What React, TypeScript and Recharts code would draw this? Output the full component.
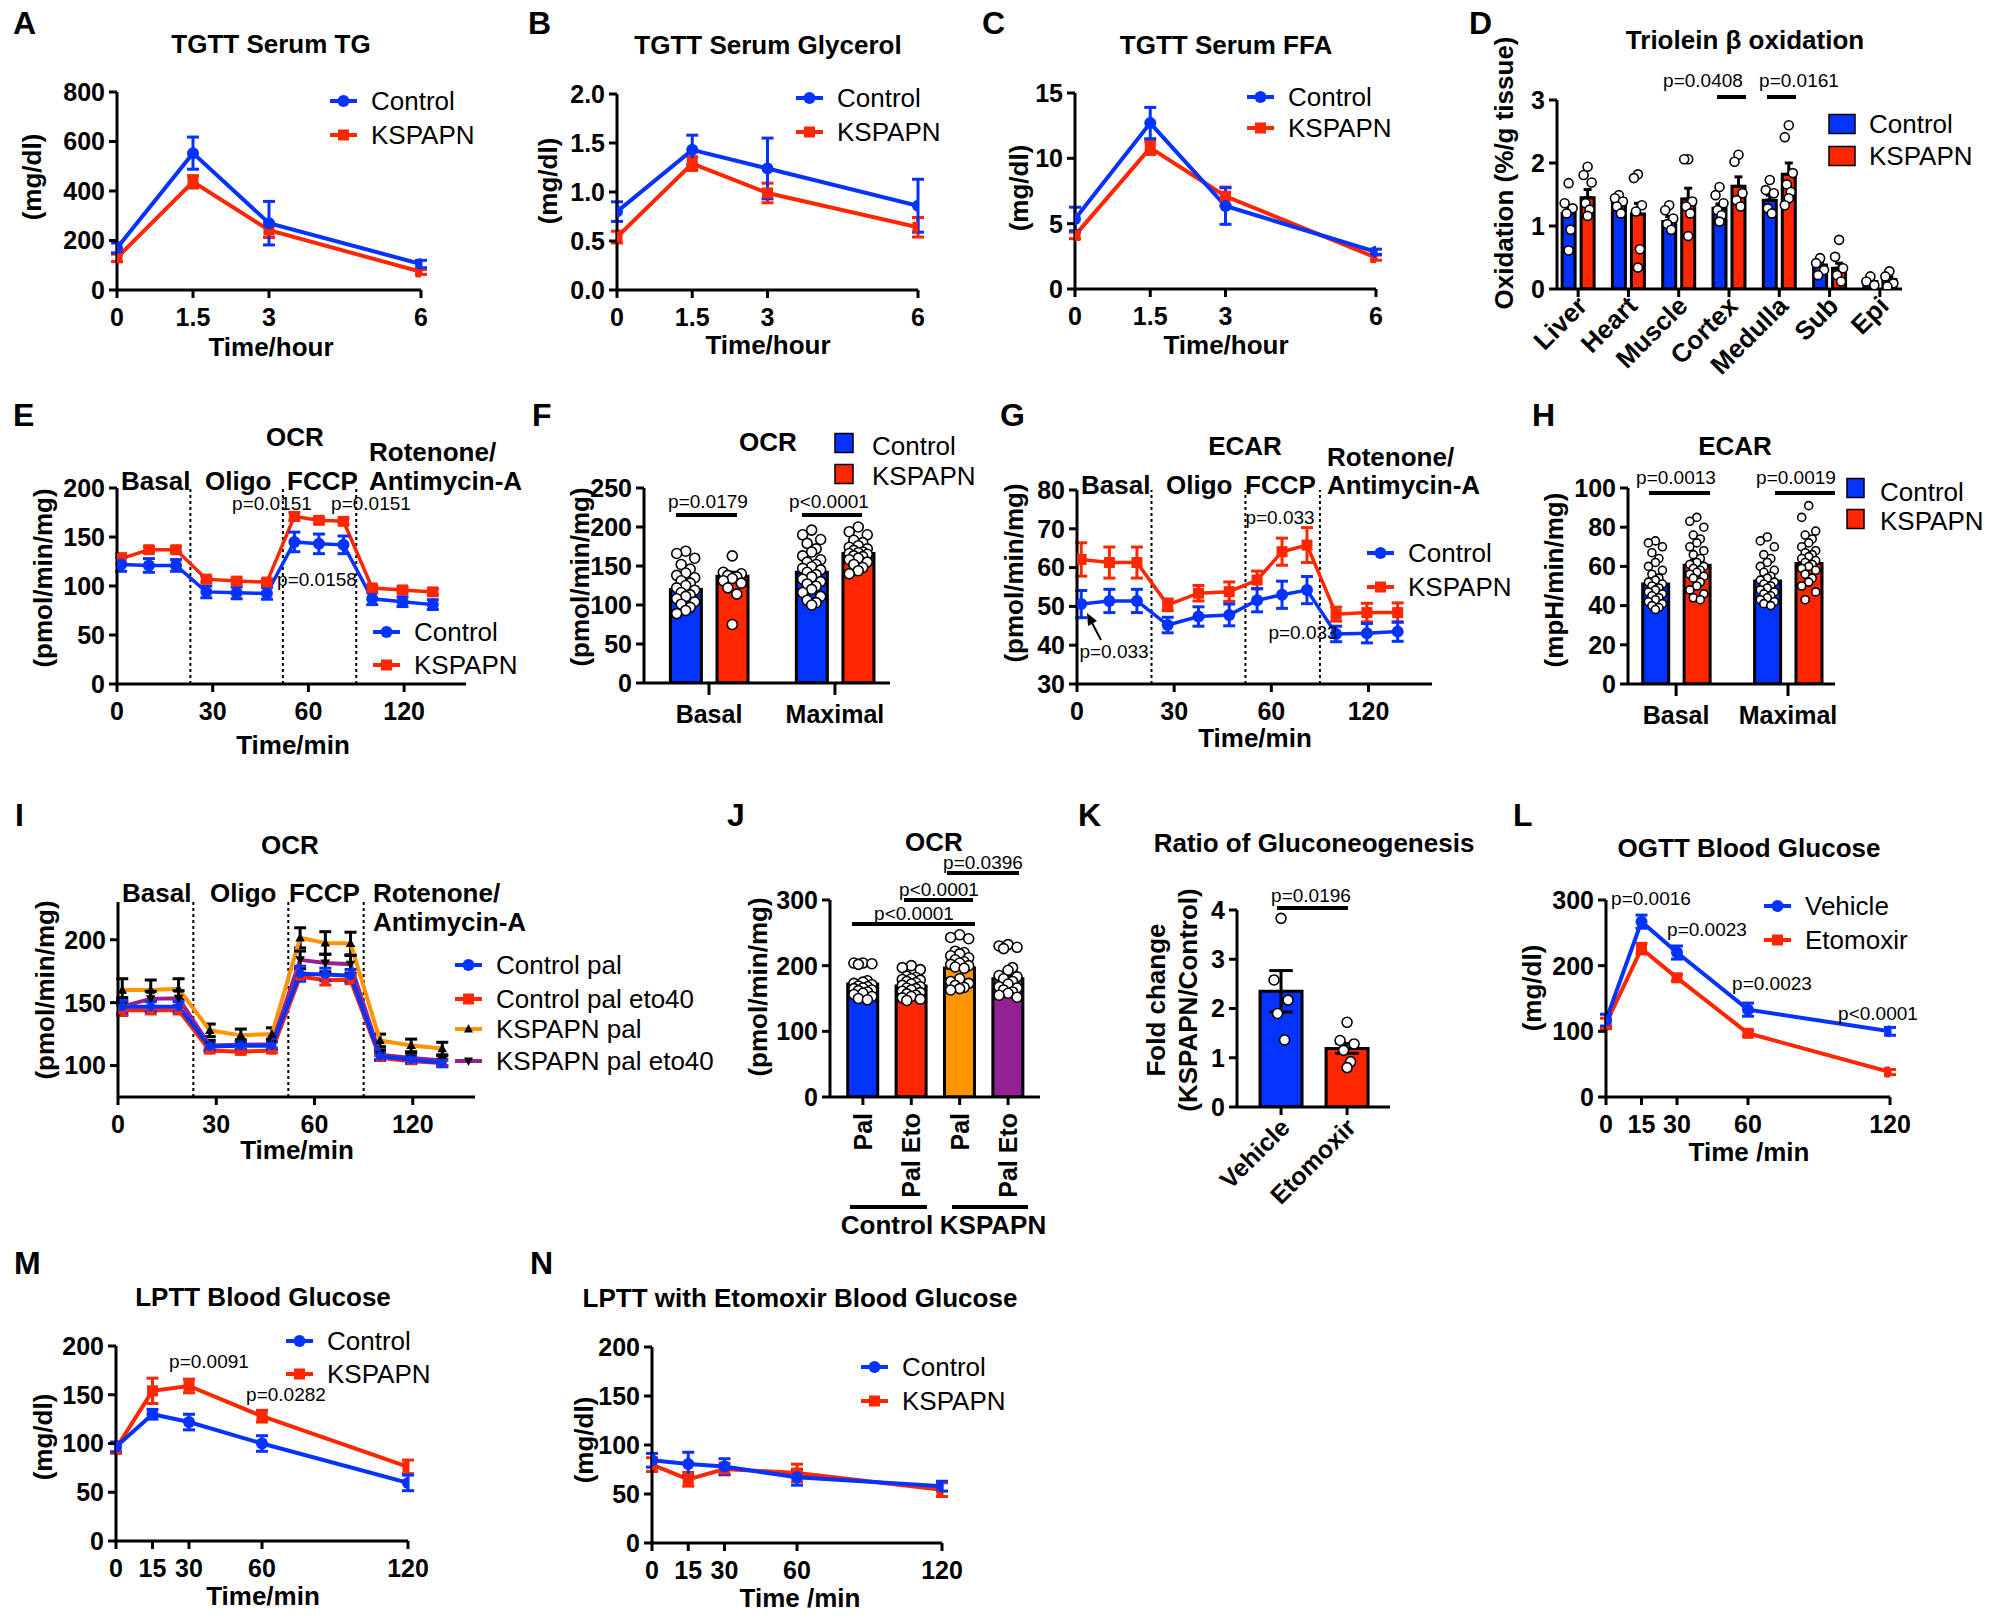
import React from "react";
import {
  LineChart,
  Line,
  ComposedChart,
  Bar,
  Cell,
  Scatter,
  XAxis,
  YAxis,
  ErrorBar,
  ReferenceLine,
} from "recharts";

const FONT = "'Liberation Sans', Arial, Helvetica, sans-serif";
const BLUE = "#0433FF";
const RED = "#FF2600";
const ORANGE = "#FF9300";
const PURPLE = "#942192";

// ---------- A-C: TGTT serum ----------
const timeHours = [0, 1.5, 3, 6];
const tgControl = [170, 553, 270, 105];
const tgControlErr = [20, 65, 88, 15];
const tgKspapn = [130, 437, 242, 73];
const tgKspapnErr = [15, 25, 30, 10];

const glyControl = [0.8, 1.43, 1.24, 0.86];
const glyControlErr = [0.1, 0.15, 0.31, 0.27];
const glyKspapn = [0.54, 1.29, 0.99, 0.64];
const glyKspapnErr = [0.06, 0.07, 0.1, 0.1];

const ffaControl = [5.36, 12.7, 6.35, 2.85];
const ffaControlErr = [0.9, 1.2, 1.4, 0.2];
const ffaKspapn = [4.1, 10.8, 7.1, 2.4];
const ffaKspapnErr = [0.25, 0.5, 0.7, 0.2];

// ---------- D: triolein oxidation ----------
const tissues = ["Liver", "Heart", "Muscle", "Cortex", "Medulla", "Sub", "Epi"];
const oxControl = [1.2, 1.43, 1.07, 1.28, 1.41, 0.38, 0.12];
const oxControlErr = [0.12, 0.05, 0.08, 0.07, 0.08, 0.05, 0.03];
const oxKspapn = [1.45, 1.19, 1.43, 1.63, 1.82, 0.33, 0.15];
const oxKspapnErr = [0.13, 0.17, 0.17, 0.15, 0.18, 0.08, 0.04];
const oxControlDots = [
  [1.68, 1.36, 1.28, 1.2, 0.94, 0.61],
  [1.49, 1.44, 1.39, 1.31, 1.2],
  [1.33, 1.25, 1.12, 1.03, 0.94],
  [1.62, 1.49, 1.36, 1.25, 1.17, 1.07],
  [1.73, 1.57, 1.52, 1.28, 1.2],
  [0.49, 0.41, 0.3, 0.22],
  [0.2, 0.12, 0.06],
];
const oxKspapnDots = [
  [1.94, 1.81, 1.69, 1.36, 1.26, 1.16],
  [1.82, 1.76, 1.33, 1.23, 0.63, 0.34],
  [2.06, 2.06, 1.39, 1.31, 1.2, 0.84],
  [2.13, 2.02, 1.52, 1.41, 1.31],
  [2.6, 2.41, 1.84, 1.66, 1.54, 1.44, 1.33],
  [0.78, 0.51, 0.33, 0.22, 0.12],
  [0.28, 0.2, 0.09, 0.04],
];

// ---------- E, G, I: seahorse traces ----------
const seahorseTimes = [1.3, 10, 18.5, 28, 37.5, 47, 55.6, 63.3, 71, 80, 89.5, 99];
const seahorseTicks = [0, 30, 60, 90];
const seahorseTickLabels = ["0", "30", "60", "120"];
const injections = [23, 52, 75];

const ocrControl = [122, 121, 121, 94, 93, 92.5, 145, 143, 142, 87, 84, 81];
const ocrControlErr = [7, 7, 6, 6, 6, 6, 10, 10, 9, 6, 5, 5];
const ocrKspapn = [128, 137, 137, 107, 105, 104, 171, 167, 166, 98, 96, 94];
const ocrKspapnErr = [5, 3, 3, 3, 3, 3, 4, 3, 3, 2, 3, 3];

const ecarControl = [50.6, 51.4, 51.4, 45.2, 47.4, 47.8, 51.6, 53, 54.2, 42.9, 43.1, 43.5];
const ecarControlErr = [3.5, 3, 3, 2, 2.5, 2.8, 3, 3.5, 3.5, 2, 2.5, 2.5];
const ecarKspapn = [62.1, 61.3, 61.3, 50.4, 53.4, 53.8, 56.8, 64.1, 65.8, 48, 48.4, 48.4];
const ecarKspapnErr = [4.3, 4, 4, 1.5, 2, 2.5, 2.3, 3.5, 4.5, 1.8, 2.4, 2.5];

const palControl = [146.7, 146.7, 146.7, 115.2, 115.8, 115.8, 173, 172.4, 171.4, 107.3, 104.7, 102];
const palControlErr = [5, 4, 4, 3, 3, 3, 6, 5, 5, 3, 3, 3];
const palControlEto = [144, 144, 144, 112, 111, 112, 170.6, 168, 168, 106, 103.5, 102];
const palControlEtoErr = [4, 3, 3, 2, 2, 2, 3, 4, 3, 2, 2, 2];
const palKspapn = [160, 160, 161, 128, 124, 125, 201.5, 197.4, 197, 120, 116, 113.5];
const palKspapnErr = [9, 8, 8, 5, 5, 5, 8, 9, 9, 5, 5, 5];
const palKspapnEto = [147, 153, 153.5, 116, 116.5, 117, 184, 181.5, 180.5, 108.5, 106, 104];
const palKspapnEtoErr = [7, 6, 6, 4, 4, 4, 7, 7, 7, 4, 4, 4];

// ---------- F, H: basal / maximal bars ----------
const stateGroups = ["Basal", "Maximal"];
const ocrBarControl = [120, 142];
const ocrBarControlErr = [5, 6];
const ocrBarKspapn = [137, 166];
const ocrBarKspapnErr = [5, 4];
const ocrDotsControl = [
  [169, 166, 160, 152, 146, 141, 138, 135, 131, 128, 125, 122, 119, 116, 113, 111, 108, 104, 101, 97, 93, 89],
  [196, 190, 184, 179, 172, 168, 163, 158, 155, 152, 149, 147, 145, 142, 139, 136, 133, 130, 127, 124, 120, 116, 111, 106, 103, 100],
];
const ocrDotsKspapn = [
  [163, 142, 140, 138, 136, 134, 131, 128, 122, 114, 75],
  [200, 194, 190, 183, 180, 176, 174, 172, 170, 168, 167, 166, 165, 163, 162, 160, 158, 155, 152, 148, 144, 140],
];

const ecarBarControl = [51, 52.5];
const ecarBarControlErr = [2, 2];
const ecarBarKspapn = [60.6, 61.5];
const ecarBarKspapnErr = [2.5, 2.5];
const ecarDotsControl = [
  [73, 72, 70, 67, 64, 62, 60, 58, 56, 54, 53, 52, 51, 50, 49, 48, 47, 46, 45, 44, 43, 42, 41, 40, 39, 38],
  [75, 73, 70, 66, 64, 62, 60, 58, 57, 55, 54, 53, 52, 51, 50, 49, 48, 47, 46, 45, 44, 43, 42, 41, 40],
];
const ecarDotsKspapn = [
  [85, 83, 80, 76, 74, 72, 70, 68, 66, 64, 62, 61, 60, 59, 58, 57, 56, 55, 54, 52, 50, 48, 46, 44, 43],
  [91, 85, 78, 76, 74, 72, 70, 68, 67, 66, 65, 64, 63, 62, 61, 60, 59, 58, 56, 54, 52, 50, 47, 43],
];

// ---------- J: palmitate OCR ----------
const palLabels = ["Pal", "Pal Eto", "Pal", "Pal Eto"];
const palColors = [BLUE, RED, ORANGE, PURPLE];
const palBarValues = [172, 169, 196.5, 180];
const palBarErr = [3, 3, 5, 5];
const palDots = [
  [204, 204, 203, 202, 177, 175, 173, 171, 169, 168, 166, 165, 163, 162, 160, 158, 156, 153, 150, 148],
  [200, 197, 194, 184, 182, 180, 179, 178, 176, 174, 172, 170, 168, 166, 165, 163, 161, 159, 157, 155, 153, 151, 149, 147],
  [247, 243, 241, 222, 220, 218, 215, 212, 209, 206, 204, 202, 200, 198, 196, 180, 176, 173, 170, 167, 165, 163],
  [232, 230, 228, 226, 197, 193, 185, 183, 180, 176, 172, 168, 166, 163, 160, 158, 155, 152],
];

// ---------- K: gluconeogenesis ratio ----------
const gngGroups = ["Vehicle", "Etomoxir"];
const gngValues = [2.35, 1.19];
const gngErr = [0.42, 0.1];
const gngDots = [
  [3.83, 2.58, 2.17, 1.9, 1.36],
  [1.72, 1.35, 1.28, 1.15, 0.92, 0.8],
];

// ---------- L-N: glucose curves ----------
const glucoseTimes = [0, 15, 30, 60, 120];
const ogttVehicle = [117, 267, 220, 133, 100];
const ogttVehicleErr = [9, 10, 10, 10, 6];
const ogttEtomoxir = [112, 226, 181.5, 97, 38];
const ogttEtomoxirErr = [8, 8, 5, 4, 4];

const lpttControl = [96.6, 130, 122, 100, 59.6];
const lpttControlErr = [5, 5, 8, 8, 8];
const lpttKspapn = [95, 154, 159, 128, 76];
const lpttKspapnErr = [5, 13, 7, 6, 7];

const lpttEtoControl = [84.4, 80.6, 78, 67, 58];
const lpttEtoControlErr = [7, 12, 8, 8, 5];
const lpttEtoKspapn = [80, 65, 75.5, 71.4, 54.4];
const lpttEtoKspapnErr = [7, 7, 6, 9, 7];

// ---------- helpers ----------
type Box = [number, number, number, number]; // left, top, right, bottom of the plot area

const axisStroke = { stroke: "#000", strokeWidth: 3 };
const tickFont = { fill: "#000", fontSize: 25, fontWeight: 700, fontFamily: FONT };

function frame(b: Box, yw: number, xh: number) {
  const mt = 14;
  const mr = 34;
  return {
    style: { position: "absolute" as const, left: b[0] - yw, top: b[1] - mt },
    width: b[2] - b[0] + yw + mr,
    height: b[3] - b[1] + mt + xh,
    margin: { top: mt, right: mr, left: 0, bottom: 0 },
  };
}

const circleDot = (fill: string, r: number) => (p: any) =>
  <circle key={`d${p.index}`} cx={p.cx} cy={p.cy} r={r} fill={fill} />;
const squareDot = (fill: string, s: number) => (p: any) =>
  <rect key={`d${p.index}`} x={p.cx - s / 2} y={p.cy - s / 2} width={s} height={s} fill={fill} />;
const triDot = (fill: string, s: number, down: boolean) => (p: any) => {
  const h = down ? -s : s;
  return (
    <polygon
      key={`d${p.index}`}
      points={`${p.cx},${p.cy - h * 0.6} ${p.cx - s * 0.6},${p.cy + h * 0.45} ${p.cx + s * 0.6},${p.cy + h * 0.45}`}
      fill={fill}
    />
  );
};

type Series = { key: string; err: string; color: string; errColor: string; dot: any; width: number };

const pairSeries = (w: number): Series[] => [
  { key: "k", err: "ke", color: RED, errColor: RED, dot: squareDot(RED, 11), width: w },
  { key: "c", err: "ce", color: BLUE, errColor: BLUE, dot: circleDot(BLUE, 6), width: w },
];

const pairRows = (t: number[], c: number[], ce: number[], k: number[], ke: number[]) =>
  t.map((x, i) => ({ t: x, c: c[i], ce: ce[i], k: k[i], ke: ke[i] }));

function LinePanel(props: {
  box: Box;
  rows: any[];
  xDomain: number[];
  xTicks: number[];
  xLabels?: string[];
  yDomain: number[];
  yTicks: number[];
  yFmt?: (v: number) => string;
  series: Series[];
  phases?: number[];
}) {
  const { box, rows, xDomain, xTicks, xLabels, yDomain, yTicks, yFmt, series, phases } = props;
  const f = frame(box, 72, 60);
  return (
    <div style={f.style}>
      <LineChart width={f.width} height={f.height} data={rows} margin={f.margin}>
        <XAxis
          type="number"
          dataKey="t"
          domain={xDomain}
          ticks={xTicks}
          interval={0}
          allowDataOverflow
          tickFormatter={(v: number) => (xLabels ? xLabels[xTicks.indexOf(v)] : String(v))}
          axisLine={axisStroke}
          tickLine={axisStroke}
          tickSize={8}
          tickMargin={10}
          tick={tickFont}
          height={60}
        />
        <YAxis
          type="number"
          domain={yDomain}
          ticks={yTicks}
          interval={0}
          allowDataOverflow
          tickFormatter={yFmt}
          axisLine={axisStroke}
          tickLine={axisStroke}
          tickSize={8}
          tickMargin={4}
          tick={tickFont}
          width={72}
        />
        {phases?.map((p) => (
          <ReferenceLine key={p} x={p} stroke="#000" strokeWidth={2} strokeDasharray="3 3" />
        ))}
        {series.map((s) => (
          <Line
            key={s.key}
            type="linear"
            dataKey={s.key}
            stroke={s.color}
            strokeWidth={s.width}
            dot={s.dot}
            activeDot={false}
            isAnimationActive={false}
          >
            <ErrorBar dataKey={s.err} width={6} strokeWidth={3} stroke={s.errColor} direction="y" isAnimationActive={false} />
          </Line>
        ))}
      </LineChart>
    </div>
  );
}

type BarRow = { x: number; y: number; e: number[]; fill: string };

// dots of one column are pushed left / right of the bar centre in turn
const JITTER = [0, -1, 1, -0.5, 0.5];
const spread = (vals: number[], cx: number, step: number) =>
  vals.map((v, k) => ({ x: cx + JITTER[k % JITTER.length] * step, y: v }));

function BarPanel(props: {
  box: Box;
  xh: number;
  bars: BarRow[];
  dots: { x: number; y: number }[];
  xDomain: number[];
  xTicks: number[];
  tick: any;
  fmt?: (v: number) => string;
  tickSize: number;
  tickMargin: number;
  yDomain: number[];
  yTicks: number[];
  barSize: number;
  r: number;
}) {
  const { box, xh, bars, dots, xDomain, xTicks, tick, fmt, tickSize, tickMargin, yDomain, yTicks, barSize, r } = props;
  const f = frame(box, 80, xh);
  return (
    <div style={f.style}>
      <ComposedChart width={f.width} height={f.height} data={bars} margin={f.margin}>
        <XAxis
          type="number"
          dataKey="x"
          domain={xDomain}
          ticks={xTicks}
          interval={0}
          allowDataOverflow
          tick={tick}
          tickFormatter={fmt}
          axisLine={axisStroke}
          tickLine={axisStroke}
          tickSize={tickSize}
          tickMargin={tickMargin}
          height={xh}
        />
        {/* same scale, kept apart so the scattered dots don't shrink the bar band */}
        <XAxis xAxisId="dots" type="number" dataKey="x" domain={xDomain} allowDataOverflow hide />
        <YAxis
          type="number"
          dataKey="y"
          domain={yDomain}
          ticks={yTicks}
          interval={0}
          allowDataOverflow
          axisLine={axisStroke}
          tickLine={axisStroke}
          tickSize={8}
          tickMargin={4}
          tick={tickFont}
          width={80}
        />
        <Bar dataKey="y" barSize={barSize} isAnimationActive={false}>
          {bars.map((b, i) => (
            <Cell key={i} fill={b.fill} stroke="#000" strokeWidth={3} />
          ))}
          <ErrorBar dataKey="e" width={Math.max(4, barSize * 0.28)} strokeWidth={3} stroke="#000" direction="y" isAnimationActive={false} />
        </Bar>
        <Scatter
          xAxisId="dots"
          data={dots}
          isAnimationActive={false}
          shape={(p: any) => <circle cx={p.cx} cy={p.cy} r={r} fill="#fff" stroke="#000" strokeWidth={1.6} />}
        />
      </ComposedChart>
    </div>
  );
}

const slantTick = (labels: string[], size: number) => (p: any) => (
  <text
    x={p.x + 4}
    y={p.y + 2}
    dy="0.35em"
    textAnchor="end"
    fontSize={size}
    fontWeight={700}
    fontFamily={FONT}
    fill="#000"
    transform={`rotate(-45 ${p.x + 4} ${p.y + 2})`}
  >
    {labels[p.payload.value]}
  </text>
);

const uprightTick = (labels: string[]) => (p: any) => (
  <text
    x={p.x}
    y={p.y}
    dy="0.36em"
    textAnchor="end"
    fontSize={25}
    fontWeight={700}
    fontFamily={FONT}
    fill="#000"
    transform={`rotate(-90 ${p.x} ${p.y})`}
  >
    {labels[p.payload.value]}
  </text>
);

// ---------- bar layouts ----------
const boxD: Box = [1557, 100, 1902, 289];
const domD = [-0.42, 6.44];
const uD = (domD[1] - domD[0]) / (boxD[2] - boxD[0]);
const barsD: BarRow[] = tissues.flatMap((_, i) => [
  { x: i - 9.5 * uD, y: oxControl[i], e: [0, oxControlErr[i]], fill: BLUE },
  { x: i + 9.5 * uD, y: oxKspapn[i], e: [0, oxKspapnErr[i]], fill: RED },
]);
const dotsD = tissues.flatMap((_, i) => [
  ...spread(oxControlDots[i], i - 9.5 * uD, 4 * uD),
  ...spread(oxKspapnDots[i], i + 9.5 * uD, 4 * uD),
]);

const boxF: Box = [644, 488, 890, 683];
const domF = [-0.516, 1.437];
const uF = (domF[1] - domF[0]) / (boxF[2] - boxF[0]);
const barsF: BarRow[] = stateGroups.flatMap((_, i) => [
  { x: i - 23.3 * uF, y: ocrBarControl[i], e: [0, ocrBarControlErr[i]], fill: BLUE },
  { x: i + 23.3 * uF, y: ocrBarKspapn[i], e: [0, ocrBarKspapnErr[i]], fill: RED },
]);
const dotsF = stateGroups.flatMap((_, i) => [
  ...spread(ocrDotsControl[i], i - 23.3 * uF, 9 * uF),
  ...spread(ocrDotsKspapn[i], i + 23.3 * uF, 9 * uF),
]);

const boxH: Box = [1628, 488, 1835, 684];
const domH = [-0.43, 1.42];
const uH = (domH[1] - domH[0]) / (boxH[2] - boxH[0]);
const barsH: BarRow[] = stateGroups.flatMap((_, i) => [
  { x: i - 20.7 * uH, y: ecarBarControl[i], e: [0, ecarBarControlErr[i]], fill: BLUE },
  { x: i + 20.7 * uH, y: ecarBarKspapn[i], e: [0, ecarBarKspapnErr[i]], fill: RED },
]);
const dotsH = stateGroups.flatMap((_, i) => [
  ...spread(ecarDotsControl[i], i - 20.7 * uH, 7 * uH),
  ...spread(ecarDotsKspapn[i], i + 20.7 * uH, 7 * uH),
]);

const boxJ: Box = [830, 900, 1040, 1097];
const domJ = [-0.68, 3.66];
const uJ = (domJ[1] - domJ[0]) / (boxJ[2] - boxJ[0]);
const barsJ: BarRow[] = palBarValues.map((v, i) => ({ x: i, y: v, e: [0, palBarErr[i]], fill: palColors[i] }));
const dotsJ = palDots.flatMap((vals, i) => spread(vals, i, 9 * uJ));

const boxK: Box = [1237, 910, 1390, 1107];
const domK = [-0.667, 1.65];
const uK = (domK[1] - domK[0]) / (boxK[2] - boxK[0]);
const barsK: BarRow[] = gngValues.map((v, i) => ({ x: i, y: v, e: [gngErr[i], gngErr[i]], fill: i === 0 ? BLUE : RED }));
const dotsK = gngDots.flatMap((vals, i) => spread(vals, i, 7 * uK));

// ---------- line rows ----------
const rowsA = pairRows(timeHours, tgControl, tgControlErr, tgKspapn, tgKspapnErr);
const rowsB = pairRows(timeHours, glyControl, glyControlErr, glyKspapn, glyKspapnErr);
const rowsC = pairRows(timeHours, ffaControl, ffaControlErr, ffaKspapn, ffaKspapnErr);
const rowsE = pairRows(seahorseTimes, ocrControl, ocrControlErr, ocrKspapn, ocrKspapnErr);
const rowsG = pairRows(seahorseTimes, ecarControl, ecarControlErr, ecarKspapn, ecarKspapnErr);
const rowsL = pairRows(glucoseTimes, ogttVehicle, ogttVehicleErr, ogttEtomoxir, ogttEtomoxirErr);
const rowsM = pairRows(glucoseTimes, lpttControl, lpttControlErr, lpttKspapn, lpttKspapnErr);
const rowsN = pairRows(glucoseTimes, lpttEtoControl, lpttEtoControlErr, lpttEtoKspapn, lpttEtoKspapnErr);
const rowsI = seahorseTimes.map((t, i) => ({
  t,
  a: palControl[i],
  ae: palControlErr[i],
  b: palControlEto[i],
  be: palControlEtoErr[i],
  o: palKspapn[i],
  oe: palKspapnErr[i],
  p: palKspapnEto[i],
  pe: palKspapnEtoErr[i],
}));
const seriesI: Series[] = [
  { key: "o", err: "oe", color: ORANGE, errColor: "#000", dot: triDot("#000", 8, false), width: 4 },
  { key: "p", err: "pe", color: PURPLE, errColor: "#000", dot: triDot("#000", 8, true), width: 4 },
  { key: "b", err: "be", color: RED, errColor: RED, dot: squareDot(RED, 8), width: 4 },
  { key: "a", err: "ae", color: BLUE, errColor: BLUE, dot: circleDot(BLUE, 4.5), width: 4 },
];

// ---------- text overlay ----------
function T(props: { x: number; y: number; s: string; size?: number; bold?: boolean; anchor?: "start" | "middle" | "end"; rot?: number }) {
  const { x, y, s, size = 26, bold = true, anchor = "middle", rot = 0 } = props;
  return (
    <text
      x={x}
      y={y}
      dy="0.36em"
      fontSize={size}
      fontWeight={bold ? 700 : 400}
      fontFamily={FONT}
      textAnchor={anchor}
      fill="#000"
      transform={rot ? `rotate(${rot} ${x} ${y})` : undefined}
    >
      {s}
    </text>
  );
}

function LegendLine(props: { x: number; y: number; color: string; mark: string; label: string }) {
  const { x, y, color, mark, label } = props;
  const cx = x + 13.5;
  return (
    <g>
      <line x1={x} x2={x + 27} y1={y} y2={y} stroke={color} strokeWidth={4} />
      {mark === "circle" && <circle cx={cx} cy={y} r={6} fill={color} />}
      {mark === "square" && <rect x={cx - 5.5} y={y - 5.5} width={11} height={11} fill={color} />}
      {mark === "tri" && <polygon points={`${cx},${y - 5} ${cx - 4.5},${y + 3.5} ${cx + 4.5},${y + 3.5}`} fill="#000" />}
      {mark === "tridown" && <polygon points={`${cx},${y + 5} ${cx - 4.5},${y - 3.5} ${cx + 4.5},${y - 3.5}`} fill="#000" />}
      <T x={x + 41} y={y} s={label} bold={false} anchor="start" />
    </g>
  );
}

function LegendBox(props: { x: number; y: number; w: number; ty: number; color: string; label: string; tx: number }) {
  const { x, y, w, ty, color, label, tx } = props;
  return (
    <g>
      <rect x={x} y={y - 9.5} width={w} height={19} fill={color} stroke="#000" strokeWidth={1.5} />
      <T x={tx} y={ty} s={label} bold={false} anchor="start" />
    </g>
  );
}

const letters: [string, number, number][] = [
  ["A", 13, 22], ["B", 528, 22], ["C", 982, 22], ["D", 1469, 22],
  ["E", 13, 414], ["F", 532, 414], ["G", 1000, 414], ["H", 1532, 414],
  ["I", 15, 814], ["J", 727, 814], ["K", 1078, 814], ["L", 1513, 814],
  ["M", 14, 1262], ["N", 530, 1262],
];

const titles: [string, number, number][] = [
  ["TGTT Serum TG", 271, 44], ["TGTT Serum Glycerol", 768, 45], ["TGTT Serum FFA", 1226, 45],
  ["Triolein \u03b2 oxidation", 1745, 40],
  ["OCR", 295, 437], ["OCR", 768, 442], ["ECAR", 1245, 446], ["ECAR", 1735, 446],
  ["OCR", 290, 845], ["OCR", 934, 842], ["Ratio of Gluconeogenesis", 1314, 843], ["OGTT Blood Glucose", 1749, 848],
  ["LPTT Blood Glucose", 263, 1297], ["LPTT with Etomoxir Blood Glucose", 800, 1298],
];

const yLabels: [string, number, number][] = [
  ["(mg/dl)", 32, 177], ["(mg/dl)", 548, 181], ["(mg/dl)", 1019, 188],
  ["Oxidation (%/g tissue)", 1504, 173],
  ["(pmol/min/mg)", 43, 578], ["(pmol/min/mg)", 580, 577], ["(pmol/min/mg)", 1014, 573], ["(mpH/min/mg)", 1554, 580],
  ["(pmol/min/mg)", 45, 990], ["(pmol/min/mg)", 758, 987], ["Fold change", 1156, 1000], ["(KSPAPN/Control)", 1188, 1000],
  ["(mg/dl)", 1532, 988], ["(mg/dl)", 43, 1437], ["(mg/dl)", 584, 1440],
];

const xLabels: [string, number, number][] = [
  ["Time/hour", 271, 347], ["Time/hour", 768, 345], ["Time/hour", 1226, 345],
  ["Time/min", 293, 745], ["Time/min", 1255, 738], ["Time/min", 297, 1150],
  ["Time /min", 1749, 1152], ["Time/min", 263, 1596], ["Time /min", 800, 1598],
  ["Control", 887, 1225], ["KSPAPN", 993, 1225],
];

const phaseLabels: [string, number, number][] = [
  ["Basal", 121, 481], ["Oligo", 205, 481], ["FCCP", 287, 481], ["Rotenone/", 369, 452], ["Antimycin-A", 369, 481],
  ["Basal", 1081, 485], ["Oligo", 1166, 485], ["FCCP", 1245, 485], ["Rotenone/", 1327, 457], ["Antimycin-A", 1327, 485],
  ["Basal", 122, 893], ["Oligo", 210, 893], ["FCCP", 289, 893], ["Rotenone/", 373, 893], ["Antimycin-A", 373, 922],
];

const pLabels: [string, number, number][] = [
  ["p=0.0408", 1703, 80], ["p=0.0161", 1799, 80],
  ["p=0.0151", 272, 503], ["p=0.0151", 371, 503], ["p=0.0158", 317, 579],
  ["p=0.0179", 708, 501], ["p<0.0001", 829, 501],
  ["p=0.033", 1114, 651], ["p=0.033", 1280, 517], ["p=0.033", 1303, 632],
  ["p=0.0013", 1676, 477], ["p=0.0019", 1796, 477],
  ["p<0.0001", 914, 913], ["p<0.0001", 939, 889], ["p=0.0396", 983, 862],
  ["p=0.0196", 1311, 895],
  ["p=0.0016", 1651, 898], ["p=0.0023", 1707, 929], ["p=0.0023", 1772, 983], ["p<0.0001", 1878, 1013],
  ["p=0.0091", 209, 1361], ["p=0.0282", 286, 1394],
];

const brackets: [number, number, number][] = [
  [1717, 1746, 97], [1767, 1796, 97],
  [676, 737, 515], [802, 862, 515],
  [1649, 1710, 493], [1775, 1835, 493],
  [852, 975, 924], [904, 973, 900], [947, 1019, 873],
  [1277, 1348, 908],
  [850, 927, 1207], [952, 1028, 1207],
];

function Overlay() {
  return (
    <svg width={2000} height={1617} style={{ position: "absolute", left: 0, top: 0, pointerEvents: "none" }}>
      {letters.map(([s, x, y], i) => <T key={`l${i}`} x={x} y={y} s={s} size={32} anchor="start" />)}
      {titles.map(([s, x, y], i) => <T key={`t${i}`} x={x} y={y} s={s} />)}
      {yLabels.map(([s, x, y], i) => <T key={`y${i}`} x={x} y={y} s={s} rot={-90} />)}
      {xLabels.map(([s, x, y], i) => <T key={`x${i}`} x={x} y={y} s={s} />)}
      {phaseLabels.map(([s, x, y], i) => <T key={`ph${i}`} x={x} y={y} s={s} anchor="start" />)}
      {pLabels.map(([s, x, y], i) => <T key={`p${i}`} x={x} y={y} s={s} size={19} bold={false} />)}
      {brackets.map(([a, b, y], i) => <line key={`b${i}`} x1={a} x2={b} y1={y} y2={y} stroke="#000" strokeWidth={4} />)}

      <line x1={1101} y1={640} x2={1091} y2={621} stroke="#000" strokeWidth={2} />
      <polygon points="1087,613 1097,621 1088,626" fill="#000" />

      <LegendLine x={330} y={101} color={BLUE} mark="circle" label="Control" />
      <LegendLine x={330} y={135} color={RED} mark="square" label="KSPAPN" />
      <LegendLine x={796} y={98} color={BLUE} mark="circle" label="Control" />
      <LegendLine x={796} y={132} color={RED} mark="square" label="KSPAPN" />
      <LegendLine x={1247} y={97} color={BLUE} mark="circle" label="Control" />
      <LegendLine x={1247} y={128} color={RED} mark="square" label="KSPAPN" />
      <LegendBox x={1829} y={124} w={26} ty={124} tx={1869} color={BLUE} label="Control" />
      <LegendBox x={1829} y={156} w={26} ty={156} tx={1869} color={RED} label="KSPAPN" />

      <LegendLine x={373} y={632} color={BLUE} mark="circle" label="Control" />
      <LegendLine x={373} y={665} color={RED} mark="square" label="KSPAPN" />
      <LegendBox x={835} y={443} w={18} ty={446} tx={872} color={BLUE} label="Control" />
      <LegendBox x={835} y={474} w={18} ty={476} tx={872} color={RED} label="KSPAPN" />
      <LegendLine x={1367} y={553} color={BLUE} mark="circle" label="Control" />
      <LegendLine x={1367} y={587} color={RED} mark="square" label="KSPAPN" />
      <LegendBox x={1847} y={488} w={17} ty={492} tx={1880} color={BLUE} label="Control" />
      <LegendBox x={1847} y={519} w={17} ty={521} tx={1880} color={RED} label="KSPAPN" />

      <LegendLine x={455} y={965} color={BLUE} mark="circle" label="Control pal" />
      <LegendLine x={455} y={999} color={RED} mark="square" label="Control pal eto40" />
      <LegendLine x={455} y={1029} color={ORANGE} mark="tri" label="KSPAPN pal" />
      <LegendLine x={455} y={1061} color={PURPLE} mark="tridown" label="KSPAPN pal eto40" />
      <LegendLine x={1764} y={906} color={BLUE} mark="circle" label="Vehicle" />
      <LegendLine x={1764} y={940} color={RED} mark="square" label="Etomoxir" />

      <LegendLine x={286} y={1341} color={BLUE} mark="circle" label="Control" />
      <LegendLine x={286} y={1374} color={RED} mark="square" label="KSPAPN" />
      <LegendLine x={861} y={1367} color={BLUE} mark="circle" label="Control" />
      <LegendLine x={861} y={1401} color={RED} mark="square" label="KSPAPN" />
    </svg>
  );
}

export default function App() {
  return (
    <div style={{ position: "absolute", left: 0, top: 0, width: 2000, height: 1617, background: "#fff", fontFamily: FONT }}>
      <LinePanel box={[117, 92, 421, 290]} rows={rowsA} xDomain={[0, 6]} xTicks={timeHours}
        yDomain={[0, 800]} yTicks={[0, 200, 400, 600, 800]} series={pairSeries(4)} />
      <LinePanel box={[617, 94, 918, 290]} rows={rowsB} xDomain={[0, 6]} xTicks={timeHours}
        yDomain={[0, 2]} yTicks={[0, 0.5, 1, 1.5, 2]} yFmt={(v) => v.toFixed(1)} series={pairSeries(4)} />
      <LinePanel box={[1075, 93, 1376, 289]} rows={rowsC} xDomain={[0, 6]} xTicks={timeHours}
        yDomain={[0, 15]} yTicks={[0, 5, 10, 15]} series={pairSeries(4)} />
      <BarPanel box={boxD} xh={150} bars={barsD} dots={dotsD} xDomain={domD} xTicks={tissues.map((_, i) => i)}
        tick={slantTick(tissues, 26)} tickSize={8} tickMargin={2} yDomain={[0, 3]} yTicks={[0, 1, 2, 3]} barSize={13} r={4.5} />

      <LinePanel box={[117, 488, 466, 684]} rows={rowsE} xDomain={[0, 109.4]} xTicks={seahorseTicks} xLabels={seahorseTickLabels}
        yDomain={[0, 200]} yTicks={[0, 50, 100, 150, 200]} series={pairSeries(3.5)} phases={injections} />
      <BarPanel box={boxF} xh={70} bars={barsF} dots={dotsF} xDomain={domF} xTicks={[0, 1]}
        tick={tickFont} fmt={(v) => stateGroups[v]} tickSize={12} tickMargin={10}
        yDomain={[0, 250]} yTicks={[0, 50, 100, 150, 200, 250]} barSize={31} r={5} />
      <LinePanel box={[1077, 490, 1432, 684]} rows={rowsG} xDomain={[0, 109.6]} xTicks={seahorseTicks} xLabels={seahorseTickLabels}
        yDomain={[30, 80]} yTicks={[30, 40, 50, 60, 70, 80]} series={pairSeries(3.5)} phases={injections} />
      <BarPanel box={boxH} xh={70} bars={barsH} dots={dotsH} xDomain={domH} xTicks={[0, 1]}
        tick={tickFont} fmt={(v) => stateGroups[v]} tickSize={12} tickMargin={10}
        yDomain={[0, 100]} yTicks={[0, 20, 40, 60, 80, 100]} barSize={26} r={4} />

      <LinePanel box={[118, 902, 475, 1097]} rows={rowsI} xDomain={[0, 109]} xTicks={seahorseTicks} xLabels={seahorseTickLabels}
        yDomain={[75, 230]} yTicks={[100, 150, 200]} series={seriesI} phases={injections} />
      <BarPanel box={boxJ} xh={110} bars={barsJ} dots={dotsJ} xDomain={domJ} xTicks={[0, 1, 2, 3]}
        tick={uprightTick(palLabels)} tickSize={8} tickMargin={8} yDomain={[0, 300]} yTicks={[0, 100, 200, 300]} barSize={30} r={5} />
      <BarPanel box={boxK} xh={110} bars={barsK} dots={dotsK} xDomain={domK} xTicks={[0, 1]}
        tick={slantTick(gngGroups, 25)} tickSize={8} tickMargin={6} yDomain={[0, 4]} yTicks={[0, 1, 2, 3, 4]} barSize={42} r={5} />
      <LinePanel box={[1606, 900, 1890, 1097]} rows={rowsL} xDomain={[0, 120]} xTicks={glucoseTimes}
        yDomain={[0, 300]} yTicks={[0, 100, 200, 300]} series={pairSeries(4)} />

      <LinePanel box={[116, 1346, 408, 1541]} rows={rowsM} xDomain={[0, 120]} xTicks={glucoseTimes}
        yDomain={[0, 200]} yTicks={[0, 50, 100, 150, 200]} series={pairSeries(4)} />
      <LinePanel box={[652, 1347, 942, 1543]} rows={rowsN} xDomain={[0, 120]} xTicks={glucoseTimes}
        yDomain={[0, 200]} yTicks={[0, 50, 100, 150, 200]} series={pairSeries(4)} />

      <Overlay />
    </div>
  );
}
